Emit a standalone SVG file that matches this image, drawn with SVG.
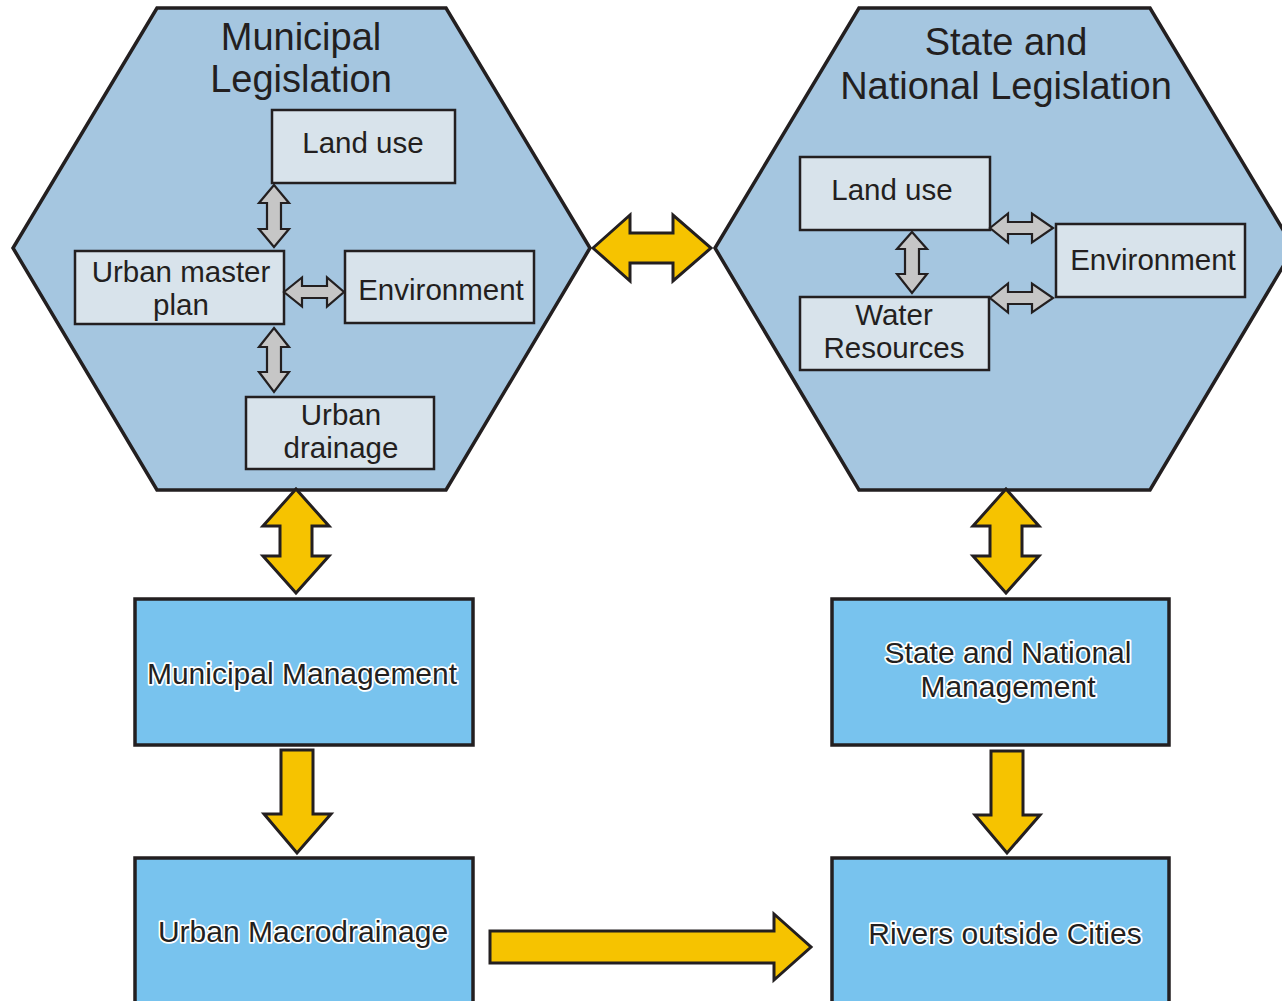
<svg xmlns="http://www.w3.org/2000/svg" width="1282" height="1001" viewBox="0 0 1282 1001">
<style>
.hex{fill:#a5c6e0;stroke:#231f20;stroke-width:3.5;stroke-linejoin:miter}
.ibox{fill:#d8e3eb;stroke:#231f20;stroke-width:2.5}
.mbox{fill:#78c3ee;stroke:#231f20;stroke-width:3.5}
.title{font-family:"Liberation Sans",Arial,sans-serif;font-size:38px;fill:#231f20;text-anchor:middle}
.itext{font-family:"Liberation Sans",Arial,sans-serif;font-size:29.5px;fill:#231f20;text-anchor:middle}
.mtext{font-family:"Liberation Sans",Arial,sans-serif;font-size:30px;fill:#231f20;text-anchor:middle;stroke:#ffffff;stroke-width:3.5;paint-order:stroke;stroke-linejoin:round}
.garrow{fill:#c6c6c6;stroke:#231f20;stroke-width:2.2;stroke-linejoin:miter}
.yarrow{fill:#f6c300;stroke:#231f20;stroke-width:3;stroke-linejoin:miter}
</style>
<rect width="1282" height="1001" fill="#ffffff"/>

<g id="municipal-legislation">
<polygon class="hex" points="157,8 446,8 590,248 446,490 157,490 13,248"/>
<text class="title" x="301" y="50">Municipal</text>
<text class="title" x="301" y="92">Legislation</text>
</g>
<g id="ml-land-use">
<rect class="ibox" x="272" y="110" width="183" height="73"/>
<text class="itext" x="363" y="153">Land use</text>
</g>
<g id="ml-urban-master-plan">
<rect class="ibox" x="75" y="251" width="209" height="73"/>
<text class="itext" x="181" y="282">Urban master</text>
<text class="itext" x="181" y="315">plan</text>
</g>
<g id="ml-environment">
<rect class="ibox" x="345" y="251" width="189" height="72"/>
<text class="itext" x="441" y="300">Environment</text>
</g>
<g id="ml-urban-drainage">
<rect class="ibox" x="246" y="397" width="188" height="72"/>
<text class="itext" x="341" y="425">Urban</text>
<text class="itext" x="341" y="458">drainage</text>
</g>

<g id="state-national-legislation">
<polygon class="hex" points="859,8 1150,8 1294,248 1150,490 859,490 715,248"/>
<text class="title" x="1006" y="55">State and</text>
<text class="title" x="1006" y="99">National Legislation</text>
</g>
<g id="sn-land-use">
<rect class="ibox" x="800" y="157" width="190" height="73"/>
<text class="itext" x="892" y="200">Land use</text>
</g>
<g id="sn-environment">
<rect class="ibox" x="1056" y="224" width="189" height="73"/>
<text class="itext" x="1153" y="270">Environment</text>
</g>
<g id="sn-water-resources">
<rect class="ibox" x="800" y="297" width="189" height="73"/>
<text class="itext" x="894" y="325">Water</text>
<text class="itext" x="894" y="358">Resources</text>
</g>

<g id="municipal-management">
<rect class="mbox" x="135" y="599" width="338" height="146"/>
<text class="mtext" x="302" y="684">Municipal Management</text>
</g>
<g id="urban-macrodrainage">
<rect class="mbox" x="135" y="858" width="338" height="160"/>
<text class="mtext" x="303" y="942">Urban Macrodrainage</text>
</g>
<g id="state-national-management">
<rect class="mbox" x="832" y="599" width="337" height="146"/>
<text class="mtext" x="1008" y="663">State and National</text>
<text class="mtext" x="1008" y="697">Management</text>
</g>
<g id="rivers-outside-cities">
<rect class="mbox" x="832" y="858" width="337" height="160"/>
<text class="mtext" x="1005" y="944">Rivers outside Cities</text>
</g>

<g id="connectors">
<path class="garrow" d="M274,185 L289,203 L281,203 L281,229 L289,229 L274,247 L259,229 L267,229 L267,203 L259,203 Z"/>
<path class="garrow" d="M274,328 L289,347 L281,347 L281,372 L289,372 L274,392 L259,372 L267,372 L267,347 L259,347 Z"/>
<path class="garrow" d="M284,292 L302,277.5 L302,286 L327,286 L327,277.5 L344,292 L327,306.5 L327,298 L302,298 L302,306.5 Z"/>
<path class="garrow" d="M912,232 L927,249 L919,249 L919,274 L927,274 L912,293 L897,274 L905,274 L905,249 L897,249 Z"/>
<path class="garrow" d="M990,228 L1008,213.5 L1008,222 L1032,222 L1032,213.5 L1053,228 L1032,242.5 L1032,234 L1008,234 L1008,242.5 Z"/>
<path class="garrow" d="M990,298 L1008,283.5 L1008,292 L1032,292 L1032,283.5 L1053,298 L1032,312.5 L1032,304 L1008,304 L1008,312.5 Z"/>
<path class="yarrow" d="M593,248 L630,215 L630,233 L673,233 L673,215 L711,248 L673,281 L673,263 L630,263 L630,281 Z"/>
<path class="yarrow" d="M296,489 L329,526 L312,526 L312,556 L329,556 L296,593 L263,556 L280,556 L280,526 L263,526 Z"/>
<path class="yarrow" d="M1006,489 L1039,526 L1022,526 L1022,556 L1039,556 L1006,593 L973,556 L990,556 L990,526 L973,526 Z"/>
<path class="yarrow" d="M281,750 L313,750 L313,814 L331,814 L297,853 L264,814 L281,814 Z"/>
<path class="yarrow" d="M991,751 L1023,751 L1023,815 L1040,815 L1007,853 L975,815 L991,815 Z"/>
<path class="yarrow" d="M490,931 L774,931 L774,914 L811,947 L774,980 L774,963 L490,963 Z"/>
</g>
</svg>
